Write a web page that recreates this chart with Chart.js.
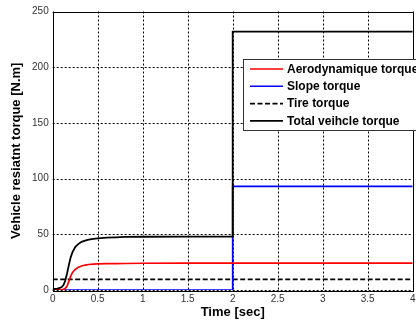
<!DOCTYPE html>
<html><head><meta charset="utf-8">
<script src="https://cdn.jsdelivr.net/npm/chart.js@4/dist/chart.umd.min.js"></script>
<style>
html,body{margin:0;padding:0;background:#fff;}
#wrap{width:416px;height:322px;overflow:hidden;position:relative;}
canvas{display:block;}
</style></head><body>
<div id="wrap"><canvas id="c" width="440" height="322"></canvas></div>
<script>
// ---- data ----
const seriesLabels = ['Aerodynamique torque', 'Slope torque', 'Tire torque', 'Total veihcle torque'];
const rampTime    = [0, 0.05, 0.08, 0.1, 0.12, 0.14, 0.16, 0.18, 0.2, 0.22, 0.25, 0.28, 0.32, 0.36, 0.4, 0.45, 0.5, 0.6, 0.7, 0.8, 1.0, 1.5, 2.0];
const totalRamp   = [0.8, 1.2, 1.8, 2.6, 4.5, 8.5, 15, 22.5, 29.5, 34, 38.5, 41, 43.2, 44.4, 45.2, 45.8, 46.4, 47, 47.3, 47.6, 47.8, 48, 48];
const aeroRamp    = [0, 0.1, 0.2, 0.3, 0.6, 1.5, 3.5, 8, 12.5, 15.8, 18.5, 20.2, 21.6, 22.4, 22.9, 23.2, 23.4, 23.6, 23.7, 23.8, 24, 24.1, 24.2];
const stepTime    = [2, 4];
const totalAfterStep = [232, 232];
const aeroAfterStep  = [24.2, 24.2];
const slopeTime   = [0, 2, 2, 4];
const slopeTorque = [0, 0, 93, 93];
const tireTime    = [0, 4];
const tireTorque  = [9.6, 9.6];
const xTickValues = [0, 0.5, 1, 1.5, 2, 2.5, 3, 3.5, 4];
const yTickValues = [0, 50, 100, 150, 200, 250];

const pts = (xs, ys) => xs.map((x, i) => ({x, y: ys[i]}));

const gridPlugin = {
  id: 'dottedGrid',
  beforeDatasetsDraw(chart) {
    const {ctx, chartArea: a, scales} = chart;
    ctx.save();
    ctx.strokeStyle = '#000';
    ctx.lineWidth = 1;
    ctx.setLineDash([2, 2]);
    ctx.beginPath();
    scales.x.ticks.forEach(t => {
      const px = Math.round(scales.x.getPixelForValue(t.value)) + 0.5;
      ctx.moveTo(px, a.top); ctx.lineTo(px, a.bottom);
    });
    scales.y.ticks.forEach(t => {
      const py = Math.round(scales.y.getPixelForValue(t.value)) + 0.5;
      ctx.moveTo(a.left, py); ctx.lineTo(a.right, py);
    });
    ctx.stroke();
    ctx.restore();
  },
  afterDatasetsDraw(chart) {
    const {ctx, chartArea: a} = chart;
    ctx.save();
    ctx.strokeStyle = '#000';
    ctx.lineWidth = 1;
    ctx.strokeRect(Math.round(a.left) + 0.5, Math.round(a.top) + 0.5, Math.round(a.right - a.left), Math.round(a.bottom - a.top));
    ctx.restore();
  }
};

const legendPlugin = {
  id: 'boxLegend',
  afterDraw(chart) {
    const ctx = chart.ctx;
    const bx = 243.5, by = 59.5, bw = 200, bh = 71;
    ctx.save();
    ctx.fillStyle = '#fff';
    ctx.fillRect(bx, by, bw, bh);
    ctx.strokeStyle = '#333';
    ctx.lineWidth = 1;
    ctx.strokeRect(bx, by, bw, bh);
    ctx.font = 'bold 12px "Liberation Sans", Arial, sans-serif';
    ctx.textBaseline = 'middle';
    ctx.textAlign = 'left';
    chart.data.datasets.forEach((ds, i) => {
      const y = 69 + i * 17.3;
      ctx.beginPath();
      ctx.strokeStyle = ds.borderColor;
      ctx.lineWidth = 1.6;
      ctx.setLineDash(ds.borderDash || []);
      ctx.moveTo(250, y); ctx.lineTo(283, y);
      ctx.stroke();
      ctx.setLineDash([]);
      ctx.fillStyle = '#000';
      ctx.fillText(ds.label, 287, y + 0.5);
    });
    ctx.restore();
  }
};

const tickFont = {family: '"Liberation Sans", Arial, sans-serif', size: 10};
const titleFont = {family: '"Liberation Sans", Arial, sans-serif', size: 13, weight: 'bold'};

new Chart(document.getElementById('c'), {
  type: 'line',
  data: {
    datasets: [
      {label: seriesLabels[0], data: pts(rampTime.concat(stepTime), aeroRamp.concat(aeroAfterStep)), borderColor: '#ff0000', borderWidth: 1.7, order: 1},
      {label: seriesLabels[1], data: pts(slopeTime, slopeTorque), borderColor: '#0000ff', borderWidth: 1.7, order: 2},
      {label: seriesLabels[2], data: pts(tireTime, tireTorque), borderColor: '#000', borderWidth: 1.7, borderDash: [5, 2.5], order: 3},
      {label: seriesLabels[3], data: pts(rampTime.concat(stepTime), totalRamp.concat(totalAfterStep)), borderColor: '#000', borderWidth: 1.8, order: 0}
    ]
  },
  options: {
    responsive: false,
    animation: false,
    devicePixelRatio: 1,
    layout: {autoPadding: false, padding: {top: 11.5, right: 27.3, left: 0, bottom: 0}},
    elements: {point: {radius: 0}, line: {tension: 0, fill: false}},
    plugins: {legend: {display: false}, tooltip: {enabled: false}},
    scales: {
      x: {
        type: 'linear', min: 0, max: 4,
        afterBuildTicks: s => { s.ticks = xTickValues.map(v => ({value: v})); },
        afterFit: s => { s.height = 32; },
        ticks: {padding: 3, color: '#333', font: tickFont, maxRotation: 0, callback: v => String(v)},
        grid: {display: false, drawTicks: false},
        border: {display: false},
        title: {display: true, text: 'Time [sec]', color: '#000', font: titleFont, padding: {top: 0, bottom: 2.2}}
      },
      y: {
        type: 'linear', min: 0, max: 250,
        afterBuildTicks: s => { s.ticks = yTickValues.map(v => ({value: v})); },
        afterFit: s => { s.width = 52.7; },
        ticks: {padding: 4, color: '#333', font: tickFont, callback: v => String(v)},
        grid: {display: false, drawTicks: false},
        border: {display: false},
        title: {display: true, text: 'Vehicle resiatnt torque [N.m]', color: '#000', font: titleFont, padding: {top: 9, bottom: 0}}
      }
    }
  },
  plugins: [gridPlugin, legendPlugin]
});
</script>
</body></html>
